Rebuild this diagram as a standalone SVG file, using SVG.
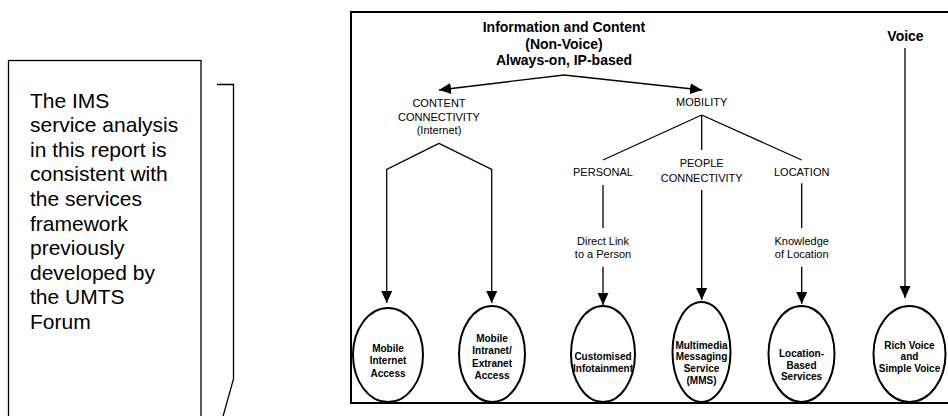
<svg xmlns="http://www.w3.org/2000/svg" width="948" height="416" viewBox="0 0 948 416">
  <style>
    .frame { fill: none; stroke: #000; stroke-width: 2; }
    .thin { fill: none; stroke: #000; stroke-width: 1.3; }
    .conn { fill: none; stroke: #000; stroke-width: 1.3; }
    .oval { fill: #fff; stroke: #000; stroke-width: 2; }
    .note { font-family: "Liberation Sans", Arial, sans-serif; font-size: 21px; fill: #000; }
    .head { font-family: "Liberation Sans", Arial, sans-serif; font-size: 14px; font-weight: bold; text-anchor: middle; fill: #000; }
    .cat { font-family: "Liberation Sans", Arial, sans-serif; font-size: 11px; text-anchor: middle; fill: #000; }
    .svc { font-family: "Liberation Sans", Arial, sans-serif; font-size: 10px; font-weight: bold; text-anchor: middle; fill: #000; }
  </style>
  <defs>
    <marker id="arrow" viewBox="0 0 12 11" refX="12" refY="5.5" markerWidth="12" markerHeight="11" markerUnits="userSpaceOnUse" orient="auto">
      <path d="M0,0 L12,5.5 L0,11 z" fill="#000"/>
    </marker>
  </defs>

  <rect width="948" height="416" fill="#fff"/>

  <!-- side note with bracket -->
  <g id="note">
    <rect class="thin" x="8.5" y="60.5" width="192.5" height="380"/>
    <text class="note" x="30">
      <tspan x="30" y="107.5">The IMS</tspan>
      <tspan x="30" y="132.1">service analysis</tspan>
      <tspan x="30" y="156.7">in this report is</tspan>
      <tspan x="30" y="181.3">consistent with</tspan>
      <tspan x="30" y="205.9">the services</tspan>
      <tspan x="30" y="230.5">framework</tspan>
      <tspan x="30" y="255.1">previously</tspan>
      <tspan x="30" y="279.7">developed by</tspan>
      <tspan x="30" y="304.3">the UMTS</tspan>
      <tspan x="30" y="328.9">Forum</tspan>
    </text>
    <path class="thin" d="M217,84.5 H233.5 V379 L222,420"/>
  </g>

  <!-- framework panel -->
  <rect id="panel" class="frame" x="351" y="12" width="620" height="391"/>

  <g id="info-content">
    <text class="head" x="564" y="32">Information and Content</text>
    <text class="head" x="564" y="48.5">(Non-Voice)</text>
    <text class="head" x="564" y="65">Always-on, IP-based</text>
  </g>
  <g id="voice">
    <text class="head" x="905.5" y="40.5">Voice</text>
  </g>

  <g id="content-connectivity">
    <text class="cat" x="439" y="107">CONTENT</text>
    <text class="cat" x="439" y="120.5">CONNECTIVITY</text>
    <text class="cat" x="439" y="133.5">(Internet)</text>
  </g>
  <g id="mobility">
    <text class="cat" x="701.7" y="106">MOBILITY</text>
  </g>
  <g id="personal">
    <text class="cat" x="603" y="175.7">PERSONAL</text>
  </g>
  <g id="people-connectivity">
    <text class="cat" x="701.7" y="167.3">PEOPLE</text>
    <text class="cat" x="701.7" y="181.5">CONNECTIVITY</text>
  </g>
  <g id="location">
    <text class="cat" x="801.7" y="175.7">LOCATION</text>
  </g>

  <g id="connectors">
    <path class="conn" d="M564,75 L439,90" marker-end="url(#arrow)"/>
    <path class="conn" d="M564,75 L702,90" marker-end="url(#arrow)"/>
    <path class="conn" d="M439,143.3 L386.7,169.3 V303" marker-end="url(#arrow)"/>
    <path class="conn" d="M439,143.3 L491.7,169.3 V303" marker-end="url(#arrow)"/>
    <path class="conn" d="M701.7,115 L603,160 M701.7,115 V150 M701.7,115 L801.7,160"/>
    <path class="conn" d="M603,185 V228"/>
    <path class="conn" d="M603,266.7 V305" marker-end="url(#arrow)"/>
    <path class="conn" d="M701.7,190 V300" marker-end="url(#arrow)"/>
    <path class="conn" d="M801.7,183.3 V228"/>
    <path class="conn" d="M801.7,266.7 V304" marker-end="url(#arrow)"/>
    <path class="conn" d="M905,48 V298" marker-end="url(#arrow)"/>
    <text class="cat" x="603" y="245">Direct Link</text>
    <text class="cat" x="603" y="257.5">to a Person</text>
    <text class="cat" x="801.7" y="245">Knowledge</text>
    <text class="cat" x="801.7" y="257.5">of Location</text>
  </g>

  <g id="mobile-internet-access">
    <ellipse class="oval" cx="388" cy="355" rx="35" ry="47"/>
    <text class="svc" x="388" y="351.5">Mobile</text>
    <text class="svc" x="388" y="364">Internet</text>
    <text class="svc" x="388" y="376.5">Access</text>
  </g>
  <g id="mobile-intranet-extranet-access">
    <ellipse class="oval" cx="492" cy="354" rx="33" ry="48"/>
    <text class="svc" x="492" y="341.5">Mobile</text>
    <text class="svc" x="492" y="354">Intranet/</text>
    <text class="svc" x="492" y="366.5">Extranet</text>
    <text class="svc" x="492" y="378.5">Access</text>
  </g>
  <g id="customised-infotainment">
    <ellipse class="oval" cx="603" cy="354" rx="32" ry="48"/>
    <text class="svc" x="603" y="360">Customised</text>
    <text class="svc" x="603" y="372">Infotainment</text>
  </g>
  <g id="mms">
    <ellipse class="oval" cx="701.5" cy="352" rx="29" ry="50"/>
    <text class="svc" x="701.5" y="348.5">Multimedia</text>
    <text class="svc" x="701.5" y="360">Messaging</text>
    <text class="svc" x="701.5" y="371.5">Service</text>
    <text class="svc" x="701.5" y="383.5">(MMS)</text>
  </g>
  <g id="location-based-services">
    <ellipse class="oval" cx="801.5" cy="354" rx="33" ry="48"/>
    <text class="svc" x="801.5" y="357">Location-</text>
    <text class="svc" x="801.5" y="368.5">Based</text>
    <text class="svc" x="801.5" y="379.5">Services</text>
  </g>
  <g id="rich-simple-voice">
    <ellipse class="oval" cx="909.5" cy="354" rx="36" ry="48"/>
    <text class="svc" x="909.5" y="348.5">Rich Voice</text>
    <text class="svc" x="909.5" y="360">and</text>
    <text class="svc" x="909.5" y="372">Simple Voice</text>
  </g>
</svg>
